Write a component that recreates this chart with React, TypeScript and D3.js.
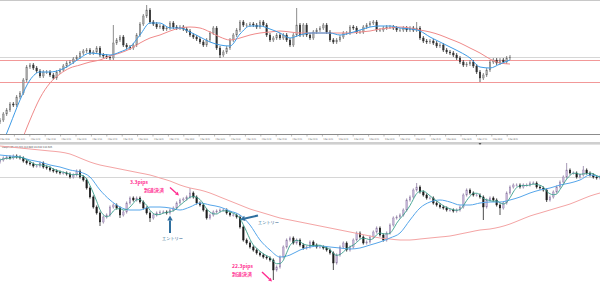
import React from "react";
import * as d3 from "d3";

const W = 600;
const H = 288;

// ---------- top panel (levels in chart units, higher = higher price) ----------
const topClose = [
  14, 20, 24, 30, 29, 37, 41, 54, 67, 69,
  66, 63, 58, 62, 62, 59, 56, 62, 64, 68,
  71, 72, 75, 77, 81, 83, 84, 81, 82, 86,
  79, 78, 77, 76, 91, 94, 97, 89, 87, 86,
  89, 99, 110, 118, 124, 112, 110, 107, 108, 105,
  106, 111, 107, 106, 107, 105, 103, 99, 97, 95,
  92, 89, 94, 101, 106, 86, 79, 82, 86, 94,
  99, 104, 112, 109, 109, 110, 109, 107, 112, 109,
  99, 94, 96, 99, 96, 99, 94, 89, 99, 109,
  99, 109, 99, 96, 102, 104, 106, 109, 102, 94,
  92, 94, 97, 101, 101, 107, 106, 102, 102, 107,
  109, 111, 112, 104, 104, 106, 107, 107, 106, 104,
  104, 106, 104, 106, 104, 106, 96, 93, 92, 93,
  91, 88, 89, 84, 82, 81, 79, 76, 72, 69,
  70, 72, 68, 62, 56, 59, 64, 72, 74, 71,
  74, 72, 76, 77,
];
// [candle index, high, low]
const topWicks: [number, number | null, number | null][] = [
  [34, 109, null], [44, 129, null], [89, 126, null], [125, 112, null], [144, null, 52], [66, null, 76],
];
// moving averages sampled every 3 candles
const topBlue = [
  -16, 9, 34, 54, 62, 62, 64, 69, 76, 81,
  80, 79, 82, 87, 99, 111, 111, 106, 106, 102,
  97, 92, 89, 88, 100, 108, 108, 105, 101, 96,
  99, 101, 101, 101, 99, 101, 104, 107, 108, 108,
  106, 105, 103, 97, 92, 87, 82, 76, 67, 66,
  70, 74,
];
const topRed = [
  -56, -36, -11, 14, 36, 51, 60, 66, 69, 72,
  74, 78, 81, 85, 91, 96, 99, 103, 106, 107,
  106, 102, 97, 94, 96, 99, 101, 102, 103, 102,
  101, 101, 101, 101, 101, 101, 102, 103, 105, 106,
  107, 106, 104, 102, 99, 95, 91, 86, 81, 75,
  71, 70,
];
const topGrayLevels = [77];
const topRedLevels = [74, 52];
const topTimeLabels = [
  "2 Dec 2016", "2 Dec 10:40", "2 Dec 11:20", "2 Dec 12:00", "2 Dec 12:40", "2 Dec 13:20",
  "2 Dec 14:00", "2 Dec 14:40", "2 Dec 15:20", "2 Dec 16:00", "2 Dec 16:40", "2 Dec 17:20",
  "2 Dec 18:00", "2 Dec 18:40", "2 Dec 19:20", "2 Dec 20:00", "2 Dec 20:40", "2 Dec 21:20",
  "2 Dec 22:00", "2 Dec 22:40", "2 Dec 23:20", "5 Dec 00:40", "5 Dec 01:20", "5 Dec 02:00",
  "5 Dec 02:40", "5 Dec 03:20", "5 Dec 04:00", "5 Dec 04:40", "5 Dec 05:20", "5 Dec 06:00",
  "5 Dec 06:40", "5 Dec 07:20", "5 Dec 08:00", "5 Dec 08:40",
];

// ---------- bottom panel ----------
const botClose = [
  128, 130, 131, 130, 132, 131, 130, 127, 125, 124,
  122, 122, 125, 121, 120, 118, 117, 116, 115, 115,
  114, 111, 113, 117, 111, 108, 100, 91, 81, 75,
  66, 71, 73, 81, 83, 80, 73, 76, 85, 90,
  88, 90, 86, 80, 75, 70, 73, 75, 76, 76,
  75, 78, 80, 85, 88, 89, 91, 95, 91, 85,
  83, 78, 70, 73, 76, 77, 78, 78, 75, 73,
  73, 71, 61, 48, 45, 41, 38, 35, 33, 31,
  30, 28, 18, 21, 31, 41, 48, 50, 45, 48,
  43, 40, 41, 46, 43, 41, 41, 40, 38, 35,
  25, 33, 41, 45, 38, 41, 48, 55, 51, 45,
  46, 51, 56, 60, 53, 48, 55, 63, 70, 71,
  73, 78, 88, 91, 98, 101, 96, 93, 90, 90,
  85, 83, 81, 80, 78, 78, 77, 78, 81, 93,
  98, 95, 93, 93, 91, 81, 88, 90, 88, 83,
  80, 85, 95, 101, 103, 103, 101, 103, 103, 105,
  105, 101, 100, 98, 88, 91, 96, 101, 106, 111,
  118, 115, 115, 111, 113, 118, 115, 113, 111, 110,
  111,
];
const botWicks: [number, number | null, number | null][] = [
  [30, null, 62], [36, null, 70], [45, null, 66], [57, 100, null], [82, null, 8],
  [100, null, 18], [125, 105, null], [145, null, 68], [150, null, 73], [164, null, 86],
  [170, 125, null], [175, 122, null],
];
const botBlue = [
  133, 132, 131, 128, 126, 123, 121, 118, 116, 111,
  98, 88, 81, 78, 78, 81, 81, 80, 78, 81,
  85, 83, 81, 77, 73, 63, 48, 38, 31, 33,
  38, 41, 42, 41, 40, 39, 40, 43, 46, 50,
  55, 68, 80, 86, 88, 86, 83, 83, 85, 86,
  86, 88, 91, 95, 98, 100, 103, 105, 108, 113,
  111,
];
const botRed = [
  142, 141, 140, 139, 138, 137, 136, 134, 130, 126,
  123, 121, 119, 117, 115, 113, 110, 107, 103, 100,
  98, 95, 91, 87, 83, 79, 76, 73, 70, 68,
  66, 64, 62, 60, 58, 56, 54, 52, 50, 49,
  48, 48, 49, 50, 51, 52, 54, 56, 58, 59,
  61, 64, 68, 72, 75, 78, 81, 84, 88, 92,
  95,
];
const botGrayLevels = [111];
const botHeader = "USDJPY,M5  113.621 113.640 113.612 113.635";

const pinkNotes = [
  { pips: "3.3pips", label: "到達決済" },
  { pips: "22.3pips", label: "到達決済" },
];
const entryLabel = "エントリー";

type Candle = { i: number; o: number; c: number; h: number; l: number };

function buildCandles(close: number[], wicks: [number, number | null, number | null][], wick: number): Candle[] {
  return close.map((c, i) => {
    const o = i === 0 ? c - 2 : close[i - 1];
    let h = Math.max(o, c) + wick;
    let l = Math.min(o, c) - wick;
    const w = wicks.find((q) => q[0] === i);
    if (w) {
      if (w[1] != null) h = w[1];
      if (w[2] != null) l = w[2];
    }
    return { i, o, c, h, l };
  });
}

function sma(arr: number[], n: number) {
  return arr.map((_, i) => {
    const s = arr.slice(Math.max(0, i - n + 1), i + 1);
    return d3.mean(s) as number;
  });
}

const x = d3.scaleLinear().domain([0, 180]).range([0, 600]);
const yTop = d3.scaleLinear().domain([0, 134]).range([134, 0]);
const yBot = d3.scaleLinear().domain([0, 143]).range([288, 145]);
const xLabel = d3.scaleLinear().domain([0, 33]).range([-1.5, 506.7]);

function Candles({ data, y, up, upStroke, down }: { data: Candle[]; y: d3.ScaleLinear<number, number>; up: string; upStroke: string; down: string }) {
  return (
    <g>
      {data.map((d) => {
        const cx = x(d.i);
        const top = y(Math.max(d.o, d.c));
        const bot = y(Math.min(d.o, d.c));
        const isUp = d.c >= d.o;
        return (
          <g key={d.i}>
            <line x1={cx} x2={cx} y1={y(d.h)} y2={y(d.l)} stroke={isUp ? upStroke : down} strokeWidth={0.8} />
            <rect x={cx - 0.8} width={1.6} y={top} height={Math.max(0.8, bot - top)} fill={isUp ? up : down} stroke={isUp ? upStroke : down} strokeWidth={0.35} />
          </g>
        );
      })}
    </g>
  );
}

function Arrow({ x1, y1, x2, y2, color, width, head }: { x1: number; y1: number; x2: number; y2: number; color: string; width: number; head: number }) {
  const a = Math.atan2(y2 - y1, x2 - x1);
  const bx = x2 - head * Math.cos(a);
  const by = y2 - head * Math.sin(a);
  const px = Math.cos(a + Math.PI / 2) * head * 0.55;
  const py = Math.sin(a + Math.PI / 2) * head * 0.55;
  return (
    <g>
      <line x1={x1} y1={y1} x2={bx} y2={by} stroke={color} strokeWidth={width} />
      <polygon points={`${x2},${y2} ${bx + px},${by + py} ${bx - px},${by - py}`} fill={color} />
    </g>
  );
}

export default function App() {
  const topC = buildCandles(topClose, topWicks, 2);
  const botC = buildCandles(botClose, botWicks, 1.6);
  const green = sma(botClose, 4);

  const maLine = (y: d3.ScaleLinear<number, number>) =>
    d3.line<number>().x((_, k) => x(k * 3)).y((d) => y(d)).curve(d3.curveMonotoneX);
  const idxLine = (y: d3.ScaleLinear<number, number>) =>
    d3.line<number>().x((_, k) => x(k)).y((d) => y(d)).curve(d3.curveMonotoneX);

  const cjk = "'Noto Sans CJK JP', 'Noto Sans', sans-serif";
  const pink = "#ff2b8f";
  const steel = "#2f6f9f";

  return (
    <svg width={W} height={H} style={{ position: "absolute", left: 0, top: 0, background: "#fff" }}>
      <defs>
        <clipPath id="clipTop"><rect x={0} y={0} width={600} height={134} /></clipPath>
        <clipPath id="clipBot"><rect x={0} y={145} width={600} height={143} /></clipPath>
      </defs>
      <rect x={0} y={0} width={W} height={H} fill="#fff" />

      {/* top panel */}
      <line x1={0} x2={600} y1={0.5} y2={0.5} stroke="#c8c8c8" />
      <g clipPath="url(#clipTop)">
        {topGrayLevels.map((v, k) => (
          <line key={"g" + k} x1={0} x2={600} y1={yTop(v) + 0.5} y2={yTop(v) + 0.5} stroke="#d6d6d6" />
        ))}
        {topRedLevels.map((v, k) => (
          <line key={"r" + k} x1={0} x2={600} y1={yTop(v) + 0.5} y2={yTop(v) + 0.5} stroke="#f08c8c" strokeWidth={0.9} />
        ))}
        <Candles data={topC} y={yTop} up="#a8a8a8" upStroke="#6e6e6e" down="#333" />
        <path d={maLine(yTop)(topRed) || ""} fill="none" stroke="#f08a8a" strokeWidth={1} />
        <path d={maLine(yTop)(topBlue) || ""} fill="none" stroke="#3d9be6" strokeWidth={1} />
      </g>
      <line x1={0} x2={600} y1={134.5} y2={134.5} stroke="#8c8c8c" />
      {topTimeLabels.map((t, k) => (
        <g key={t}>
          <line x1={xLabel(k) + 0.5} x2={xLabel(k) + 0.5} y1={134.5} y2={136.5} stroke="#8c8c8c" strokeWidth={0.6} />
          <text x={xLabel(k) + 1.5} y={139.6} fontSize={2.4} fill="#555" fontFamily="DejaVu Sans" textLength={9.5} lengthAdjust="spacingAndGlyphs">{t}</text>
        </g>
      ))}
      {/* separator */}
      <rect x={0} y={142} width={600} height={2.6} fill="#cfcfcf" />
      <polygon points="478.5,143 481.5,143 480,145" fill="#555" />

      {/* bottom panel */}
      <text x={2} y={148.3} fontSize={2.6} fill="#333" fontFamily="DejaVu Sans" textLength={50} lengthAdjust="spacingAndGlyphs">{botHeader}</text>
      <g clipPath="url(#clipBot)">
        {botGrayLevels.map((v, k) => (
          <line key={"bg" + k} x1={0} x2={600} y1={yBot(v) + 0.5} y2={yBot(v) + 0.5} stroke="#d6d6d6" />
        ))}
        <Candles data={botC} y={yBot} up="#c4b2d8" upStroke="#8f7fa3" down="#1e1e1e" />
        <path d={maLine(yBot)(botRed) || ""} fill="none" stroke="#f4a4a4" strokeWidth={1} />
        <path d={maLine(yBot)(botBlue) || ""} fill="none" stroke="#56a6ea" strokeWidth={1} />
        <path d={idxLine(yBot)(green) || ""} fill="none" stroke="#3a9e8c" strokeWidth={0.9} />
      </g>

      {/* annotations */}
      <text x={130} y={183.5} fontSize={5} fontWeight="bold" fill={pink} fontFamily={cjk}>{pinkNotes[0].pips}</text>
      <text x={144} y={191.5} fontSize={5} fontWeight="bold" fill={pink} fontFamily={cjk}>{pinkNotes[0].label}</text>
      <Arrow x1={170} y1={187.5} x2={179} y2={195.5} color={pink} width={1.4} head={3.5} />

      <Arrow x1={170} y1={233} x2={170} y2={215.5} color={steel} width={2} head={5} />
      <text x={162} y={240} fontSize={4.2} fill="#2e5f8c" fontFamily={cjk}>{entryLabel}</text>

      <Arrow x1={258} y1={215.5} x2={240} y2={219.5} color={steel} width={2} head={5} />
      <text x={258} y={224} fontSize={4.2} fill="#2e5f8c" fontFamily={cjk}>{entryLabel}</text>

      <text x={232} y={268} fontSize={5} fontWeight="bold" fill={pink} fontFamily={cjk}>{pinkNotes[1].pips}</text>
      <text x={232} y={275.5} fontSize={5} fontWeight="bold" fill={pink} fontFamily={cjk}>{pinkNotes[1].label}</text>
      <Arrow x1={262} y1={272} x2={272} y2={281.5} color={pink} width={1.4} head={3.5} />
    </svg>
  );
}
